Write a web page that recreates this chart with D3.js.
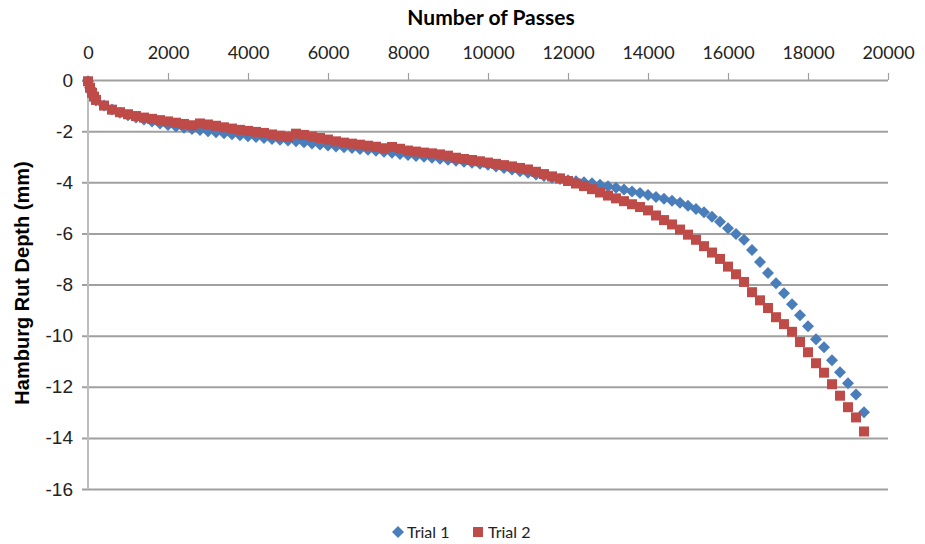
<!DOCTYPE html>
<html>
<head>
<meta charset="utf-8">
<script src="https://cdn.jsdelivr.net/npm/d3@7"></script>
<style>
  body { margin: 0; background: #fff; }
  svg { display: block; }
</style>
</head>
<body>
<svg id="chart" width="925" height="544"></svg>
<script>
// number of passes (shared by both trials)
var passes = [0, 50, 100, 150,
  200, 400, 600, 800, 1000, 1200, 1400, 1600, 1800, 2000,
  2200, 2400, 2600, 2800, 3000, 3200, 3400, 3600, 3800, 4000,
  4200, 4400, 4600, 4800, 5000, 5200, 5400, 5600, 5800, 6000,
  6200, 6400, 6600, 6800, 7000, 7200, 7400, 7600, 7800, 8000,
  8200, 8400, 8600, 8800, 9000, 9200, 9400, 9600, 9800, 10000,
  10200, 10400, 10600, 10800, 11000, 11200, 11400, 11600, 11800, 12000,
  12200, 12400, 12600, 12800, 13000, 13200, 13400, 13600, 13800, 14000,
  14200, 14400, 14600, 14800, 15000, 15200, 15400, 15600, 15800, 16000,
  16200, 16400, 16600, 16800, 17000, 17200, 17400, 17600, 17800, 18000,
  18200, 18400, 18600, 18800, 19000, 19200, 19400];

// Trial 1 rut depth (mm)
var trial1 = [-0.05, -0.3, -0.5, -0.68,
  -0.8, -1.0, -1.15, -1.28, -1.38, -1.47, -1.55, -1.62, -1.7, -1.76,
  -1.82, -1.87, -1.92, -1.96, -2.0, -2.04, -2.08, -2.12, -2.16, -2.2,
  -2.23, -2.27, -2.31, -2.34, -2.37, -2.4, -2.44, -2.48, -2.52, -2.56,
  -2.6, -2.63, -2.66, -2.7, -2.73, -2.77, -2.81, -2.85, -2.89, -2.93,
  -2.97, -3.0, -3.04, -3.08, -3.12, -3.16, -3.2, -3.24, -3.28, -3.32,
  -3.38, -3.44, -3.5, -3.57, -3.63, -3.7, -3.76, -3.82, -3.87, -3.92,
  -3.96, -4.0, -4.04, -4.1, -4.16, -4.22, -4.28, -4.36, -4.42, -4.5,
  -4.58, -4.65, -4.72, -4.8, -4.92, -5.05, -5.17, -5.35, -5.55, -5.8,
  -6.02, -6.25, -6.65, -7.12, -7.55, -7.95, -8.34, -8.77, -9.2, -9.63,
  -10.14, -10.45, -10.96, -11.43, -11.86, -12.3, -13.0];

// Trial 2 rut depth (mm)
var trial2 = [-0.05, -0.3, -0.5, -0.65,
  -0.78, -1.0, -1.16, -1.26, -1.34, -1.41, -1.47, -1.52, -1.57, -1.62,
  -1.67, -1.72, -1.77, -1.7, -1.74, -1.79, -1.85, -1.9, -1.95, -1.99,
  -2.03, -2.07, -2.13, -2.18, -2.22, -2.1, -2.15, -2.21, -2.27, -2.33,
  -2.4, -2.45, -2.49, -2.53, -2.57, -2.61, -2.67, -2.62, -2.69, -2.76,
  -2.8, -2.84, -2.87, -2.91, -2.96, -3.04, -3.09, -3.13, -3.18, -3.23,
  -3.28, -3.33, -3.38, -3.44, -3.5, -3.59, -3.68, -3.77, -3.85, -3.95,
  -4.05, -4.15, -4.27, -4.4, -4.52, -4.63, -4.74, -4.86, -4.97, -5.1,
  -5.3, -5.48, -5.65, -5.85, -6.05, -6.25, -6.5, -6.75, -7.0, -7.3,
  -7.6, -7.9, -8.3, -8.62, -8.92, -9.28, -9.55, -9.85, -10.25, -10.65,
  -11.08, -11.45, -11.9, -12.35, -12.8, -13.2, -13.75];

var x_ticks = [0, 2000, 4000, 6000, 8000, 10000, 12000, 14000, 16000, 18000, 20000];
var y_ticks = [0, -2, -4, -6, -8, -10, -12, -14, -16];
var series_names = ["Trial 1", "Trial 2"];

var blue = "#4a7ebb";
var red = "#be4b48";
var grid_color = "#a0a0a0";

var svg = d3.select("#chart");

// plot area
var left = 88, right = 888, top_y = 80, bottom_y = 489;

var x = d3.scaleLinear().domain([0, 20000]).range([left, right]);
var y = d3.scaleLinear().domain([0, -16]).range([top_y, bottom_y]);

// horizontal gridlines + left ticks
var y_axis = svg.append("g")
  .attr("transform", "translate(" + left + ",0)")
  .call(d3.axisLeft(y).tickValues(y_ticks).tickSize(6).tickFormat(d3.format("d")));
y_axis.select(".domain").remove();
y_axis.selectAll(".tick line")
  .attr("x2", right - left)
  .attr("x1", -6)
  .attr("stroke", grid_color)
  .attr("stroke-width", 2);
y_axis.selectAll(".tick text")
  .attr("x", -15)
  .attr("fill", "#222")
  .style("font-family", "'Liberation Sans', Arial, sans-serif")
  .style("font-size", "19px")
  .text(function (d) { return d === 0 ? "0" : "-" + Math.abs(d); });

// vertical axis line
svg.append("line")
  .attr("x1", left).attr("x2", left)
  .attr("y1", top_y).attr("y2", bottom_y)
  .attr("stroke", "#bdbdbd")
  .attr("stroke-width", 2);

// top x axis
var x_axis = svg.append("g")
  .attr("transform", "translate(0," + top_y + ")")
  .call(d3.axisTop(x).tickValues(x_ticks).tickSize(7).tickFormat(d3.format("d")));
x_axis.select(".domain").remove();
x_axis.selectAll(".tick line")
  .attr("stroke", grid_color)
  .attr("stroke-width", 1.2)
  .style("display", function (d) { return d === 0 ? "none" : null; });
x_axis.selectAll(".tick text")
  .attr("y", -21)
  .attr("fill", "#222")
  .style("font-family", "Lato, sans-serif")
  .style("font-size", "18px");

// axis titles
svg.append("text")
  .attr("x", 491).attr("y", 25)
  .attr("text-anchor", "middle")
  .style("font-family", "Lato, sans-serif")
  .style("font-weight", "bold")
  .style("font-size", "21px")
  .text("Number of Passes");

svg.append("text")
  .attr("transform", "translate(29,283) rotate(-90)")
  .attr("text-anchor", "middle")
  .style("font-family", "'Liberation Sans', Arial, sans-serif")
  .style("font-weight", "bold")
  .style("font-size", "20px")
  .text("Hamburg Rut Depth (mm)");

// markers
var diamond = function (r) { return "M0," + (-r) + "L" + r + ",0L0," + r + "L" + (-r) + ",0Z"; };
var square = d3.symbol().type(d3.symbolSquare).size(100);

svg.append("g").selectAll("path")
  .data(passes)
  .enter().append("path")
  .attr("transform", function (p, i) { return "translate(" + x(p) + "," + y(trial1[i]) + ")"; })
  .attr("d", diamond(6))
  .attr("fill", blue);

svg.append("g").selectAll("path")
  .data(passes)
  .enter().append("path")
  .attr("transform", function (p, i) { return "translate(" + x(p) + "," + y(trial2[i]) + ")"; })
  .attr("d", square())
  .attr("fill", red);

// legend
var legend = svg.append("g").style("font-family", "Lato, sans-serif").style("font-size", "16px");
legend.append("path").attr("d", diamond(6)).attr("transform", "translate(398,532)").attr("fill", blue);
legend.append("text").attr("x", 407).attr("y", 538).attr("fill", "#222").text(series_names[0]);
legend.append("path").attr("d", square()).attr("transform", "translate(478,532)").attr("fill", red);
legend.append("text").attr("x", 488).attr("y", 538).attr("fill", "#222").text(series_names[1]);
</script>
</body>
</html>
